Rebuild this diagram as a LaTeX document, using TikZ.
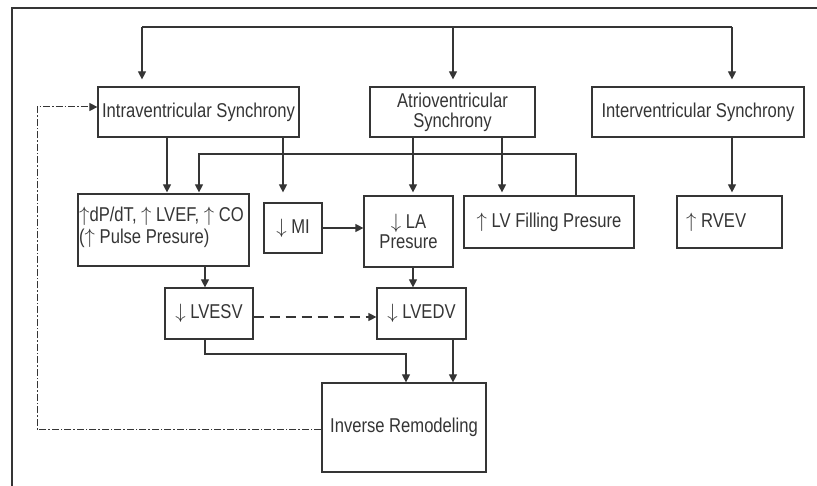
\documentclass[tikz,border=0pt]{standalone}
\usepackage{fontspec}
\setmainfont{Liberation Sans}[FakeStretch=0.83]
\usetikzlibrary{arrows.meta}
\definecolor{ink}{HTML}{353535}
\begin{document}
\begin{tikzpicture}[x=1pt,y=-1pt,
  box/.style={draw=ink,line width=1.2pt,inner sep=0pt,align=center,text=ink,
    font=\fontsize{20}{20}\selectfont},
  lbl/.style={inner sep=0pt,align=left,text=ink,font=\fontsize{20}{22}\selectfont},
  conn/.style={draw=ink,line width=1.2pt},
  arr/.style={conn,-{Triangle[width=8pt,length=8pt]}},
  fb/.style={draw=ink,line width=1pt,dash pattern=on 7pt off 2pt on 1.5pt off 2pt,
    -{Triangle[width=8pt,length=8pt]}},
  dsh/.style={draw=ink,line width=1.2pt,dash pattern=on 10pt off 6pt,
    -{Triangle[width=8pt,length=8pt]}}]
\useasboundingbox (0,0) rectangle (817,486);
\fill[white] (0,0) rectangle (817,486);
% frame
\coordinate (fbot) at (12,486);
\coordinate (fcor) at (12,8);
\coordinate (frgt) at (817,8);
\draw[ink,line width=2.6pt] (fbot) -- (fcor) -- (frgt);
% nodes
\node[box,minimum width=201pt,minimum height=50pt] (intra) at (198.5,112) {Intraventricular Synchrony};
\node[box,minimum width=165pt,minimum height=50pt] (atrio) at (452.5,112) {Atrioventricular\\Synchrony};
\node[box,minimum width=212pt,minimum height=50pt] (inter) at (698,112) {Interventricular Synchrony};
\node[box,minimum width=171pt,minimum height=72pt] (dp) at (163.5,230) {};
\node[lbl,anchor=north west] (dptxt) at (79,207) {$\uparrow$dP/dT, $\uparrow$ LVEF, $\uparrow$ CO\\($\uparrow$ Pulse Presure)};
\node[box,minimum width=58pt,minimum height=50pt] (mi) at (293,228) {$\downarrow$ MI};
\node[box,minimum width=89pt,minimum height=71pt] (la) at (408.5,231.5) {$\downarrow$ LA\\Presure};
\node[box,minimum width=170pt,minimum height=52pt] (lvf) at (549,222) {$\uparrow$ LV Filling Presure};
\node[box,minimum width=105pt,minimum height=52pt] (rvev) at (729.5,222) {};
\node[lbl,anchor=west] (rvevtxt) at (686,222) {$\uparrow$ RVEV};
\node[box,minimum width=88pt,minimum height=51pt] (lvesv) at (209,313.5) {$\downarrow$ LVESV};
\node[box,minimum width=89pt,minimum height=51pt] (lvedv) at (421.5,313.5) {$\downarrow$ LVEDV};
\node[box,minimum width=164pt,minimum height=89pt] (inv) at (404,427.5) {Inverse Remodeling};
% top distribution
\coordinate (t1) at (142,27);
\coordinate (t2) at (453,27);
\coordinate (t3) at (732,27);
\draw[conn] (t1) -- (t3);
\draw[arr,shorten >=7pt] (t1) -- (t1 |- intra.north);
\draw[arr,shorten >=7pt] (t2) -- (t2 |- atrio.north);
\draw[arr,shorten >=7pt] (t3) -- (t3 |- inter.north);
% second level
\coordinate (a1) at (167,0);
\coordinate (a2) at (283,0);
\coordinate (a3) at (413,0);
\coordinate (a4) at (502,0);
\coordinate (a5) at (732,0);
\draw[arr,shorten >=1pt] (a1 |- intra.south) -- (a1 |- dp.north);
\draw[arr,shorten >=10pt] (a2 |- intra.south) -- (a2 |- mi.north);
\draw[arr,shorten >=3pt] (a3 |- atrio.south) -- (a3 |- la.north);
\draw[arr,shorten >=3pt] (a4 |- atrio.south) -- (a4 |- lvf.north);
\draw[arr,shorten >=3pt] (a5 |- inter.south) -- (a5 |- rvev.north);
% loop from LV filling to dP
\coordinate (h1) at (576,154);
\coordinate (h2) at (199,154);
\draw[arr,shorten >=1pt] (h1 |- lvf.north) -- (h1) -- (h2) -- (h2 |- dp.north);
% MI to LA
\draw[arr] (mi.east) -- (la.west |- mi.east);
% third level
\coordinate (b1) at (205,0);
\draw[arr] (b1 |- dp.south) -- (b1 |- lvesv.north);
\draw[arr] (a3 |- la.south) -- (a3 |- lvedv.north);
\draw[dsh] ([yshift=-3.5pt]lvesv.east) -- ([yshift=-3.5pt]lvedv.west);
% to inverse remodeling
\coordinate (c1) at (205,354);
\coordinate (c2) at (406,354);
\coordinate (c3) at (453,0);
\draw[arr] (c1 |- lvesv.south) -- (c1) -- (c2) -- (c2 |- inv.north);
\draw[arr] (c3 |- lvedv.south) -- (c3 |- inv.north);
% feedback
\coordinate (f1) at (37,429);
\coordinate (f2) at (37,107);
\draw[fb] (inv.west |- f1) -- (f1) -- (f2) -- (f2 -| intra.west);
\end{tikzpicture}
\end{document}
